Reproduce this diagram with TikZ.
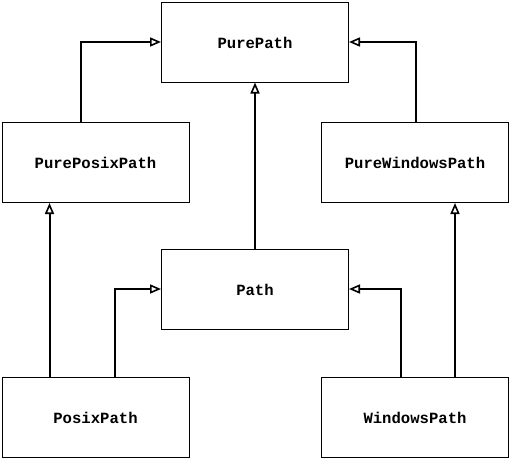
\documentclass[tikz,border=0pt]{standalone}
\usepackage{fontspec}
\setmonofont{Liberation Mono}
\usetikzlibrary{arrows.meta}
\begin{document}
\begin{tikzpicture}[x=1pt,y=-1pt,
  cls/.style={draw=black, line width=1pt, minimum width=187pt, minimum height=80pt, inner sep=0pt,
    font=\fontsize{15.6}{18}\selectfont\ttfamily\bfseries, anchor=north west,
    text height=15pt, text depth=3pt},
  inh/.style={line width=2pt, -{Triangle[open, length=11pt, width=9pt, line width=1.6pt]}}]
\useasboundingbox (0,0) rectangle (509,458);
\node[cls] (pp) at (161,1.5) {PurePath};
\node[cls] (ppx) at (1.5,122) {PurePosixPath};
\node[cls] (pwn) at (321,122) {PureWindowsPath};
\node[cls] (p) at (161,248.5) {Path};
\node[cls] (px) at (1.5,377) {PosixPath};
\node[cls] (wn) at (321,377) {WindowsPath};
\draw[inh] (ppx.north west) ++(79.5,0) coordinate (a1) |- (pp.west);
\draw[inh] (pwn.north west) ++(95,0) coordinate (a2) |- (pp.east);
\draw[inh] (p.north) -- (pp.south);
\draw[inh] (px.north west) ++(48,0) coordinate (a3) -- (a3 |- ppx.south);
\draw[inh] (px.north west) ++(113.5,0) coordinate (a4) |- (p.west);
\draw[inh] (wn.north west) ++(80,0) coordinate (a5) |- (p.east);
\draw[inh] (wn.north west) ++(134,0) coordinate (a6) -- (a6 |- pwn.south);
\end{tikzpicture}
\end{document}
